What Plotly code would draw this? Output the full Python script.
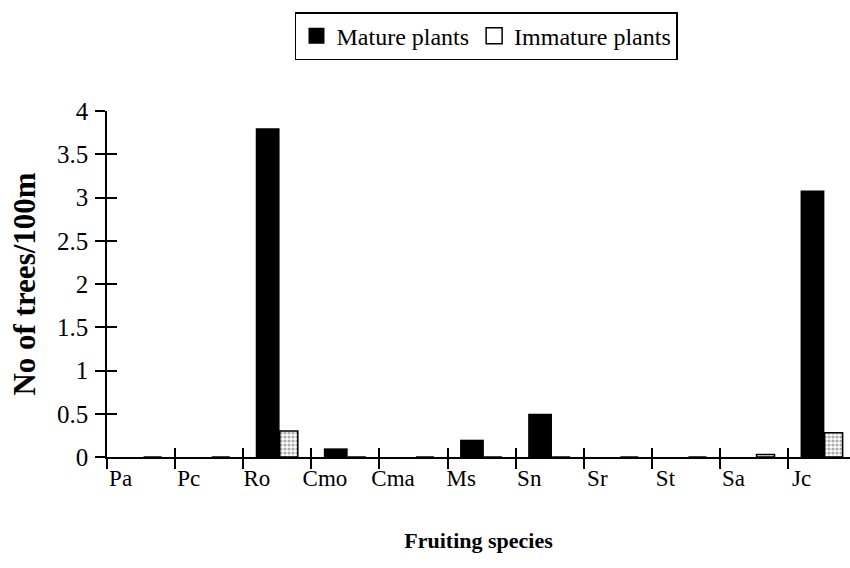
import plotly.graph_objects as go

# Fruiting species (categories along x)
species = ["Pa", "Pc", "Ro", "Cmo", "Cma", "Ms", "Sn", "Sr", "St", "Sa", "Jc"]

# Density of trees per 100 m for each species
mature_plants = [0, 0, 3.8, 0.1, 0, 0.2, 0.5, 0, 0, 0, 3.08]
immature_plants = [0, 0, 0.3, 0, 0, 0, 0, 0, 0, 0.03, 0.28]

y_ticks = [0, 0.5, 1, 1.5, 2, 2.5, 3, 3.5, 4]
y_tick_text = ["0", "0.5", "1", "1.5", "2", "2.5", "3", "3.5", "4"]

FONT = "Liberation Serif, Times New Roman, serif"

xpos = list(range(len(species)))
boundaries = [i - 0.5 for i in range(len(species) + 1)]
label_pos = [i - 0.3 for i in xpos]

fig = go.Figure()
fig.add_trace(go.Bar(
    x=xpos, y=mature_plants, name="Mature plants", showlegend=False,
    width=0.35, offset=-0.316,
    marker=dict(color="black", line=dict(color="black", width=0)),
))
fig.add_trace(go.Bar(
    x=xpos, y=immature_plants, name="Immature plants", showlegend=False,
    width=0.265, offset=0.037,
    marker=dict(color="white", line=dict(color="black", width=1.5),
                pattern=dict(shape=".", fgcolor="#555555", size=4, solidity=0.5)),
))

# legend entries with large square keys
fig.add_trace(go.Scatter(
    x=[None], y=[None], mode="markers", name="Mature plants",
    marker=dict(symbol="square", size=20, color="black"),
))
fig.add_trace(go.Scatter(
    x=[None], y=[None], mode="markers", name="Immature plants",
    marker=dict(symbol="square", size=17, color="white",
                line=dict(color="black", width=1.5)),
))

# second axes only supply the inward half of the crossing tick marks
fig.add_trace(go.Scatter(x=[None], y=[None], xaxis="x2", yaxis="y2",
                         showlegend=False, hoverinfo="skip"))

fig.update_layout(
    width=850, height=568,
    margin=dict(l=107, r=0, t=111, b=111),
    paper_bgcolor="white", plot_bgcolor="white",
    font=dict(family=FONT, size=22, color="black"),
    barmode="overlay",
    showlegend=True,
    legend=dict(
        orientation="h", x=0.253, y=1.286, xanchor="left", yanchor="top",
        bordercolor="black", borderwidth=1.5, bgcolor="white",
        font=dict(family=FONT, size=24, color="black"),
        itemwidth=30, tracegroupgap=0,
    ),
    xaxis=dict(
        range=[-0.5, 10.41], showgrid=False, zeroline=False,
        showline=True, linecolor="black", linewidth=1.5,
        tickmode="array", tickvals=label_pos, ticktext=species,
        ticks="", ticklabelstandoff=0,
        tickfont=dict(family=FONT, size=23),
        minor=dict(tickmode="array", tickvals=boundaries, ticks="outside",
                   ticklen=10, tickwidth=1.5, tickcolor="black"),
        title=dict(text="<b>Fruiting species</b>", standoff=42,
                   font=dict(family=FONT, size=22)),
    ),
    xaxis2=dict(
        range=[-0.5, 10.41], overlaying="x", anchor="y", side="bottom",
        showgrid=False, zeroline=False, showline=False,
        tickmode="array", tickvals=boundaries, ticks="inside",
        ticklen=9, tickwidth=1.5, tickcolor="black", showticklabels=False,
    ),
    yaxis=dict(
        range=[0, 4], showgrid=False, zeroline=False,
        showline=True, linecolor="black", linewidth=1.5,
        tickmode="array", tickvals=y_ticks, ticktext=y_tick_text,
        ticks="outside", ticklen=10, tickwidth=1.5, tickcolor="black",
        ticklabelstandoff=2,
        tickfont=dict(family=FONT, size=25),
        title=dict(text="<b>No of trees/100m</b>", standoff=12,
                   font=dict(family=FONT, size=31)),
    ),
    yaxis2=dict(
        range=[0, 4], overlaying="y", anchor="x", side="left",
        showgrid=False, zeroline=False, showline=False,
        tickmode="array", tickvals=y_ticks, ticks="inside",
        ticklen=10, tickwidth=1.5, tickcolor="black", showticklabels=False,
    ),
)

fig.write_html("out.html")
